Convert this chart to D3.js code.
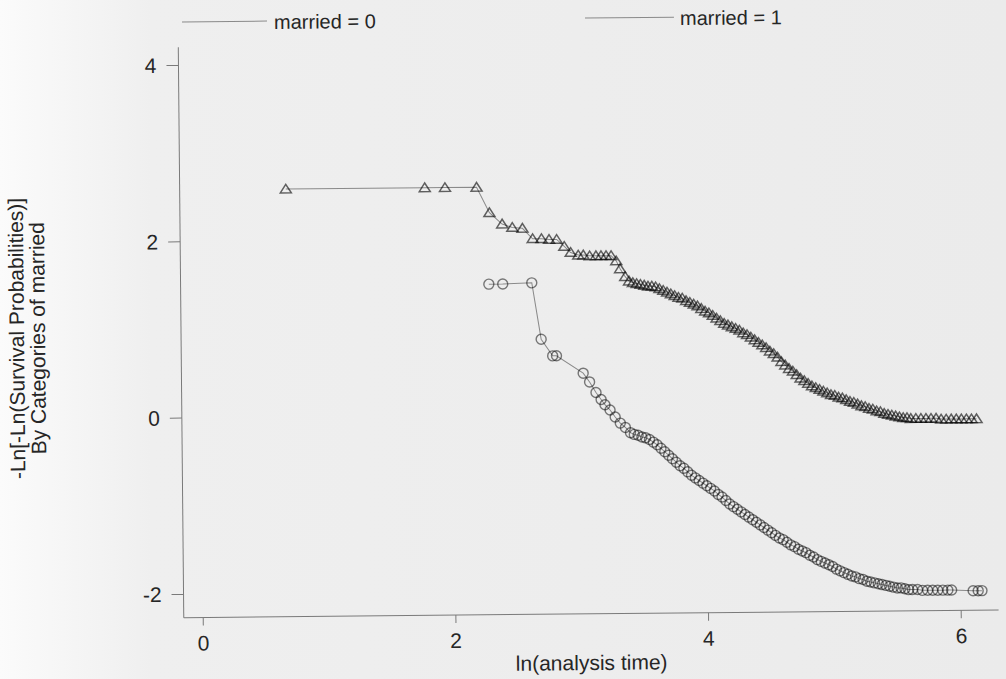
<!DOCTYPE html>
<html>
<head>
<meta charset="utf-8">
<script src="https://cdn.jsdelivr.net/npm/d3@7"></script>
<style>
body { margin: 0; background: #ececec; }
text { font-family: "Liberation Sans", Arial, sans-serif; fill: #262626; }
</style>
</head>
<body>
<svg id="chart" width="1006" height="679"></svg>
<script>
// the data: ln(analysis time) and -ln(-ln S) for each group
const lnTime0 = [0.69, 1.79, 1.95, 2.20, 2.30, 2.40, 2.48, 2.56, 2.64, 2.71, 2.77, 2.83, 2.89, 2.94, 3.00, 3.04, 3.09, 3.14, 3.18, 3.22, 3.26,
  3.30, 3.33, 3.37,
  3.40, 3.43, 3.46, 3.49, 3.52, 3.55, 3.58, 3.61, 3.64, 3.67, 3.70, 3.73, 3.76, 3.79, 3.82, 3.85, 3.88, 3.91, 3.94, 3.97,
  4.00, 4.03, 4.06, 4.09, 4.12, 4.15, 4.18, 4.21, 4.24, 4.27, 4.30, 4.33, 4.36, 4.39, 4.42, 4.45, 4.48, 4.51, 4.54, 4.57,
  4.60, 4.63, 4.66, 4.69, 4.72, 4.75, 4.78, 4.81, 4.84, 4.87, 4.90, 4.93, 4.96, 4.99, 5.02, 5.05, 5.08, 5.11, 5.14, 5.17,
  5.20, 5.23, 5.26, 5.29, 5.32, 5.35, 5.38, 5.41, 5.44, 5.47, 5.50, 5.53, 5.56, 5.59, 5.62,
  5.66, 5.70, 5.74, 5.78, 5.82, 5.86, 5.90, 5.94, 5.98, 6.02, 6.06, 6.10, 6.14];
const logLog0 = [2.58, 2.58, 2.58, 2.58, 2.29, 2.16, 2.12, 2.11, 1.99, 1.99, 1.98, 1.98, 1.90, 1.83, 1.80, 1.80, 1.79, 1.79, 1.79, 1.79, 1.79,
  1.73, 1.64, 1.55,
  1.50, 1.48, 1.47, 1.46, 1.45, 1.44, 1.44, 1.43, 1.41, 1.39, 1.37, 1.35, 1.33, 1.31, 1.30, 1.27, 1.25, 1.23, 1.21, 1.18,
  1.15, 1.13, 1.10, 1.07, 1.04, 1.01, 0.99, 0.97, 0.95, 0.93, 0.90, 0.88, 0.85, 0.82, 0.79, 0.76, 0.73, 0.69, 0.66, 0.62,
  0.57, 0.53, 0.49, 0.46, 0.42, 0.38, 0.35, 0.32, 0.29, 0.27, 0.25, 0.23, 0.21, 0.19, 0.18, 0.16, 0.15, 0.13, 0.11, 0.10,
  0.08, 0.06, 0.05, 0.03, 0.02, 0.00, -0.01, -0.03, -0.04, -0.05, -0.06, -0.07, -0.08, -0.08, -0.09,
  -0.09, -0.09, -0.09, -0.09, -0.09, -0.10, -0.10, -0.10, -0.10, -0.10, -0.10, -0.10, -0.10];

const lnTime1 = [2.29, 2.40, 2.63, 2.70, 2.79, 2.82, 3.03, 3.08, 3.13, 3.17, 3.20, 3.24, 3.28, 3.32, 3.36,
  3.40, 3.43, 3.46, 3.49, 3.52, 3.55, 3.58, 3.61, 3.64, 3.67, 3.70, 3.73, 3.76, 3.79, 3.82, 3.85, 3.88, 3.91, 3.94, 3.97,
  4.00, 4.03, 4.06, 4.09, 4.12, 4.15, 4.18, 4.21, 4.24, 4.27, 4.30, 4.33, 4.36, 4.39, 4.42, 4.45, 4.48, 4.51, 4.54, 4.57,
  4.60, 4.63, 4.66, 4.69, 4.72, 4.75, 4.78, 4.81, 4.84, 4.87, 4.90, 4.93, 4.96, 4.99, 5.02, 5.05, 5.08, 5.11, 5.14, 5.17,
  5.20, 5.23, 5.26, 5.29, 5.32, 5.35, 5.38, 5.41, 5.44, 5.47, 5.50, 5.53, 5.56, 5.59, 5.62,
  5.66, 5.70, 5.74, 5.78, 5.82, 5.86, 5.90, 5.93, 6.10, 6.14, 6.17];
const logLog1 = [1.48, 1.48, 1.49, 0.85, 0.66, 0.66, 0.46, 0.36, 0.24, 0.16, 0.10, 0.04, -0.04, -0.11, -0.16,
  -0.22, -0.24, -0.25, -0.27, -0.28, -0.30, -0.33, -0.36, -0.40, -0.44, -0.48, -0.52, -0.56, -0.60, -0.63, -0.67, -0.71, -0.74, -0.77, -0.80,
  -0.83, -0.86, -0.89, -0.93, -0.96, -1.00, -1.04, -1.07, -1.10, -1.13, -1.16, -1.19, -1.22, -1.25, -1.28, -1.31, -1.34, -1.37, -1.40, -1.43,
  -1.45, -1.48, -1.51, -1.53, -1.56, -1.58, -1.60, -1.63, -1.65, -1.68, -1.70, -1.72, -1.74, -1.76, -1.79, -1.81, -1.83, -1.85, -1.87, -1.88,
  -1.90, -1.91, -1.93, -1.94, -1.95, -1.96, -1.97, -1.98, -1.99, -2.00, -2.01, -2.01, -2.02, -2.03, -2.03,
  -2.03, -2.04, -2.04, -2.04, -2.04, -2.04, -2.04, -2.04, -2.05, -2.05, -2.05];

const groupNames = ["married = 0", "married = 1"];
const xTicks = [0, 2, 4, 6];
const yTicks = [-2, 0, 2, 4];

let svg = d3.select("#chart"),
  width = +svg.attr("width"),
  height = +svg.attr("height");

// paper look of the scan: whiter at the left edge
let grad = svg.append("defs").append("linearGradient").attr("id", "paper");
grad.append("stop").attr("offset", "0").attr("stop-color", "#fbfbfb");
grad.append("stop").attr("offset", "0.15").attr("stop-color", "#efefef");
grad.append("stop").attr("offset", "1").attr("stop-color", "#ebebeb");
svg.append("rect").attr("width", width).attr("height", height).attr("fill", "url(#paper)");

// the page was scanned a little crooked
let g = svg.append("g").attr("transform", "rotate(-0.55, 590, 333)");

let x = d3.scaleLinear().domain([0, 6]).range([200, 958]);
let y = d3.scaleLinear().domain([-2, 4]).range([590, 61]);

// axes
let xAxis = g.append("g").attr("transform", "translate(0," + y(-2.27) + ")")
  .call(d3.axisBottom(x).tickValues(xTicks).tickFormat(d => String(d)).tickSize(8).tickPadding(10));
let yAxis = g.append("g").attr("transform", "translate(" + x(-0.15) + ",0)")
  .call(d3.axisLeft(y).tickValues(yTicks).tickFormat(d => String(d)).tickSize(12).tickPadding(10));
[xAxis, yAxis].forEach(function (a) {
  a.select(".domain").remove();
  a.selectAll("line").attr("stroke", "#7a7a7a");
  a.selectAll("text").attr("font-size", 21).attr("fill", "#262626").attr("font-family", null);
});
yAxis.selectAll("text").attr("dy", "0.35em");

g.append("line")
  .attr("x1", x(-0.15)).attr("x2", x(6.3))
  .attr("y1", y(-2.27)).attr("y2", y(-2.27))
  .attr("stroke", "#7a7a7a");
g.append("line")
  .attr("x1", x(-0.15)).attr("x2", x(-0.15))
  .attr("y1", y(-2.27)).attr("y2", y(4.2))
  .attr("stroke", "#7a7a7a");

// axis titles
g.append("text")
  .attr("x", (x(-0.15) + x(6.3)) / 2).attr("y", 670)
  .attr("text-anchor", "middle").attr("font-size", 21)
  .text("ln(analysis time)");
["-Ln[-Ln(Survival Probabilities)]", "By Categories of married"].forEach(function (t, i) {
  g.append("text")
    .attr("transform", "translate(" + (24 + i * 21) + ",333) rotate(-90)")
    .attr("text-anchor", "middle").attr("font-size", 21).attr("fill", "#3a3a3a")
    .text(t);
});

let line = d3.line().x(d => x(d[0])).y(d => y(d[1]));
let series = [d3.zip(lnTime0, logLog0), d3.zip(lnTime1, logLog1)];

series.forEach(function (pts) {
  g.append("path").datum(pts)
    .attr("d", line)
    .attr("fill", "none").attr("stroke", "#8a8a8a").attr("stroke-width", 1);
});

// triangles for married = 0; the scan makes piled-up markers go dark
g.append("g").selectAll("path")
  .data(series[0]).enter()
  .append("path")
  .attr("transform", d => "translate(" + x(d[0]) + "," + y(d[1]) + ")")
  .attr("d", "M-5.5,3.8L5.5,3.8L0,-4.8Z")
  .attr("fill", "none").attr("stroke", "#000").attr("stroke-opacity", 0.6).attr("stroke-width", 1.5);

// circles for married = 1
g.append("g").selectAll("circle")
  .data(series[1]).enter()
  .append("circle")
  .attr("cx", d => x(d[0])).attr("cy", d => y(d[1]))
  .attr("r", 5)
  .attr("fill", "none").attr("stroke", "#000").attr("stroke-opacity", 0.5).attr("stroke-width", 1.4);

// legend
let legendX = [[185, 270, 277], [588, 677, 683]];
groupNames.forEach(function (name, i) {
  g.append("line")
    .attr("x1", legendX[i][0]).attr("x2", legendX[i][1])
    .attr("y1", 18).attr("y2", 18)
    .attr("stroke", "#8a8a8a");
  g.append("text")
    .attr("x", legendX[i][2]).attr("y", 26)
    .attr("font-size", 20)
    .text(name);
});
</script>
</body>
</html>
